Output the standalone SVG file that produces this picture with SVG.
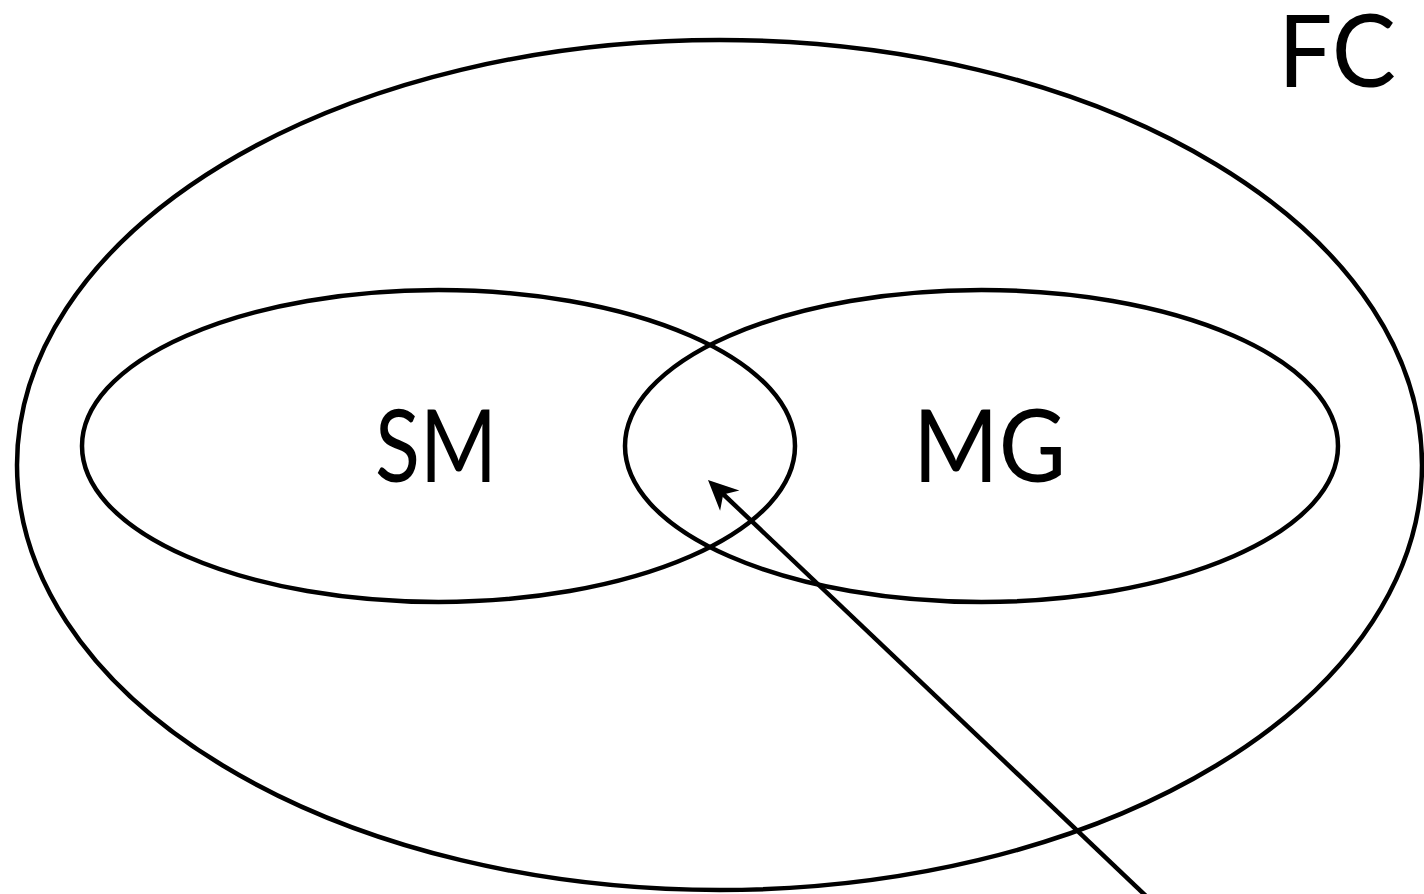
<svg xmlns="http://www.w3.org/2000/svg" width="1424" height="894" viewBox="0 0 1424 894">
<style>
.shape{fill:none;stroke:#000;stroke-width:4.5}
.head{fill:#000;stroke:none}
.lbl{font-family:Lato,"Open Sans","Liberation Sans",sans-serif;font-size:100px;fill:#000}
</style>
<rect width="1424" height="894" fill="#fff"/>
<g id="FC">
<ellipse class="shape" cx="719.5" cy="465" rx="702.5" ry="425"/>
<text class="lbl" x="1278" y="87" textLength="118" lengthAdjust="spacingAndGlyphs">FC</text>
</g>
<g id="SM">
<ellipse class="shape" cx="438.5" cy="446" rx="356.5" ry="156"/>
<text class="lbl" x="375" y="482" textLength="122" lengthAdjust="spacingAndGlyphs">SM</text>
</g>
<g id="MG">
<ellipse class="shape" cx="981.5" cy="446" rx="356.5" ry="156"/>
<text class="lbl" x="913" y="482" textLength="153" lengthAdjust="spacingAndGlyphs">MG</text>
</g>
<g id="connectors">
<line class="shape" x1="1146" y1="896" x2="722" y2="493"/>
<polygon class="head" points="708,480 739.4,490.5 723.2,494.5 720.1,510.8"/>
</g>
</svg>
